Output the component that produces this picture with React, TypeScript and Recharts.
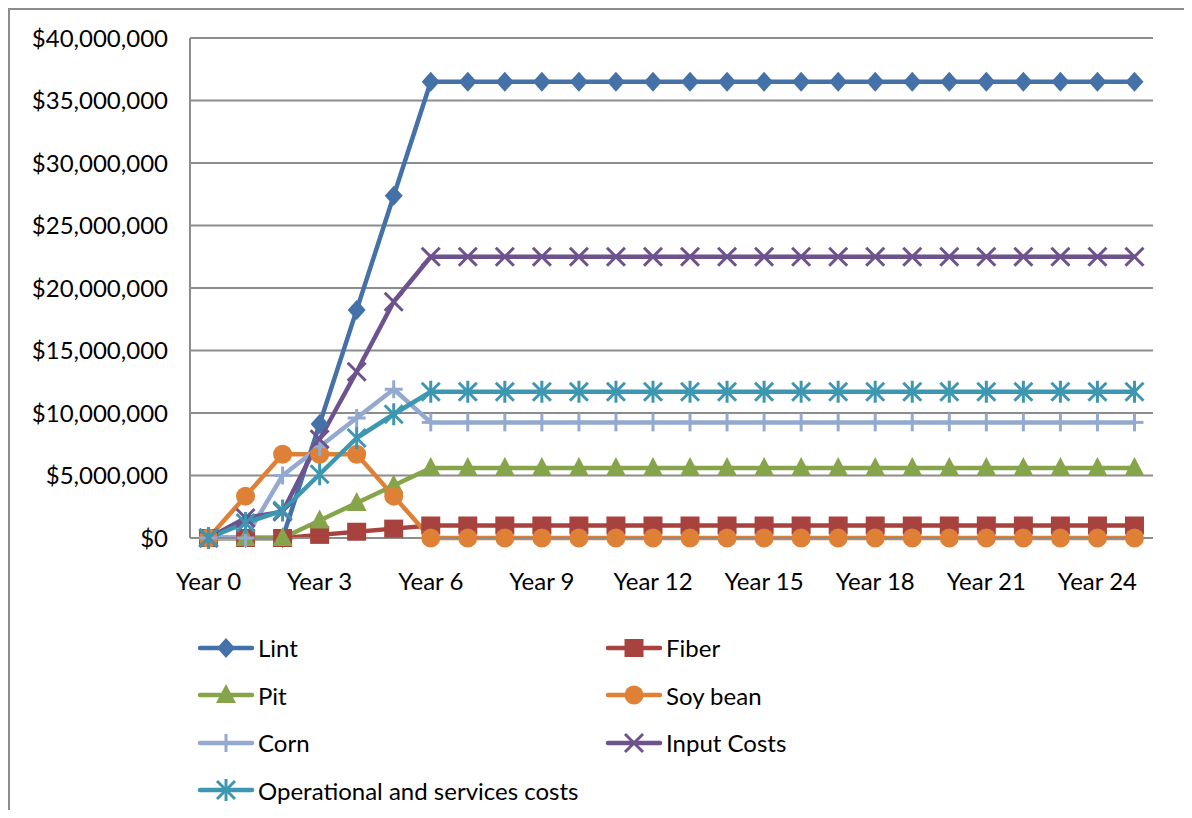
import { CartesianGrid, Line, LineChart, XAxis, YAxis } from "recharts";

const YEARS = [
  "Year 0", "Year 1", "Year 2", "Year 3", "Year 4", "Year 5", "Year 6",
  "Year 7", "Year 8", "Year 9", "Year 10", "Year 11", "Year 12", "Year 13",
  "Year 14", "Year 15", "Year 16", "Year 17", "Year 18", "Year 19",
  "Year 20", "Year 21", "Year 22", "Year 23", "Year 24", "Year 25",
];

// yearly values in dollars, year 0 .. year 25
const LINT = [
  0, 0, 0, 9125000, 18250000, 27375000, 36500000, 36500000, 36500000,
  36500000, 36500000, 36500000, 36500000, 36500000, 36500000, 36500000,
  36500000, 36500000, 36500000, 36500000, 36500000, 36500000, 36500000,
  36500000, 36500000, 36500000,
];
const FIBER = [
  0, 0, 0, 250000, 500000, 750000, 1000000, 1000000, 1000000, 1000000,
  1000000, 1000000, 1000000, 1000000, 1000000, 1000000, 1000000, 1000000,
  1000000, 1000000, 1000000, 1000000, 1000000, 1000000, 1000000, 1000000,
];
const PIT = [
  0, 0, 0, 1400000, 2800000, 4200000, 5600000, 5600000, 5600000, 5600000,
  5600000, 5600000, 5600000, 5600000, 5600000, 5600000, 5600000, 5600000,
  5600000, 5600000, 5600000, 5600000, 5600000, 5600000, 5600000, 5600000,
];
const SOY_BEAN = [
  0, 3350000, 6700000, 6700000, 6700000, 3350000, 0, 0, 0, 0, 0, 0, 0, 0,
  0, 0, 0, 0, 0, 0, 0, 0, 0, 0, 0, 0,
];
const CORN = [
  0, 0, 5000000, 7300000, 9600000, 11900000, 9250000, 9250000, 9250000,
  9250000, 9250000, 9250000, 9250000, 9250000, 9250000, 9250000, 9250000,
  9250000, 9250000, 9250000, 9250000, 9250000, 9250000, 9250000, 9250000,
  9250000,
];
const INPUT_COSTS = [
  0, 1600000, 2100000, 7900000, 13300000, 18900000, 22500000, 22500000,
  22500000, 22500000, 22500000, 22500000, 22500000, 22500000, 22500000,
  22500000, 22500000, 22500000, 22500000, 22500000, 22500000, 22500000,
  22500000, 22500000, 22500000, 22500000,
];
const OPERATIONAL = [
  0, 1200000, 2200000, 5100000, 8000000, 9900000, 11700000, 11700000,
  11700000, 11700000, 11700000, 11700000, 11700000, 11700000, 11700000,
  11700000, 11700000, 11700000, 11700000, 11700000, 11700000, 11700000,
  11700000, 11700000, 11700000, 11700000,
];

const Y_TICKS = [
  0, 5000000, 10000000, 15000000, 20000000, 25000000, 30000000, 35000000,
  40000000,
];

type Shape = "diamond" | "square" | "triangle" | "circle" | "plus" | "cross" | "star";

const SERIES: { key: string; name: string; values: number[]; color: string; shape: Shape }[] = [
  { key: "lint", name: "Lint", values: LINT, color: "#4571a9", shape: "diamond" },
  { key: "fiber", name: "Fiber", values: FIBER, color: "#a8423f", shape: "square" },
  { key: "pit", name: "Pit", values: PIT, color: "#86a44a", shape: "triangle" },
  { key: "soy", name: "Soy bean", values: SOY_BEAN, color: "#de8136", shape: "circle" },
  { key: "corn", name: "Corn", values: CORN, color: "#93a9d0", shape: "plus" },
  { key: "input", name: "Input Costs", values: INPUT_COSTS, color: "#6d528d", shape: "cross" },
  { key: "oper", name: "Operational and services costs", values: OPERATIONAL, color: "#3d97b0", shape: "star" },
];

const rows = YEARS.map((year, i) => {
  const row: Record<string, string | number> = { year };
  SERIES.forEach((s) => {
    row[s.key] = s.values[i];
  });
  return row;
});

const FONT = "Lato, 'Open Sans', sans-serif";
const FONT_SIZE = 24;
const GRID = "#8c8c8c";

function Marker({ shape, cx, cy, color }: { shape: Shape; cx: number; cy: number; color: string }) {
  switch (shape) {
    case "diamond":
      return <polygon points={`${cx},${cy - 10} ${cx + 9},${cy} ${cx},${cy + 10} ${cx - 9},${cy}`} fill={color} />;
    case "square":
      return <rect x={cx - 9.5} y={cy - 9} width={19} height={18} fill={color} />;
    case "triangle":
      return <polygon points={`${cx},${cy - 11} ${cx + 10},${cy + 8} ${cx - 10},${cy + 8}`} fill={color} />;
    case "circle":
      return <circle cx={cx} cy={cy} r={9.5} fill={color} />;
    case "plus":
      return (
        <g stroke={color} strokeWidth={3}>
          <line x1={cx} y1={cy - 9} x2={cx} y2={cy + 9} />
          <line x1={cx - 9} y1={cy} x2={cx + 9} y2={cy} />
        </g>
      );
    case "cross":
      return (
        <g stroke={color} strokeWidth={3}>
          <line x1={cx - 9} y1={cy - 9} x2={cx + 9} y2={cy + 9} />
          <line x1={cx - 9} y1={cy + 9} x2={cx + 9} y2={cy - 9} />
        </g>
      );
    default:
      return (
        <g stroke={color} strokeWidth={3}>
          <line x1={cx - 9} y1={cy - 9} x2={cx + 9} y2={cy + 9} />
          <line x1={cx - 9} y1={cy + 9} x2={cx + 9} y2={cy - 9} />
          <line x1={cx} y1={cy - 11} x2={cx} y2={cy + 11} />
        </g>
      );
  }
}

const formatDollars = (v: number) => "$" + v.toLocaleString("en-US");

function ChartLegend() {
  return (
    <div
      style={{
        position: "absolute",
        left: 190,
        top: 614,
        display: "grid",
        gridTemplateColumns: "408px 380px",
        gridAutoRows: "47.5px",
        fontFamily: FONT,
        fontSize: FONT_SIZE,
        color: "#000",
        whiteSpace: "nowrap",
      }}
    >
      {SERIES.map((s) => (
        <div key={s.key} style={{ display: "flex", alignItems: "center" }}>
          <svg width={52} height={26} style={{ overflow: "visible", flexShrink: 0 }}>
            <line x1={0} y1={13} x2={52} y2={13} stroke={s.color} strokeWidth={4.5} strokeLinecap="round" />
            <Marker shape={s.shape} cx={26} cy={13} color={s.color} />
          </svg>
          <span style={{ marginLeft: 6 }}>{s.name}</span>
        </div>
      ))}
    </div>
  );
}

export default function App() {
  return (
    <div
      style={{
        position: "relative",
        width: 1182,
        height: 800,
        borderTop: `2px solid ${GRID}`,
        borderLeft: `2px solid ${GRID}`,
        background: "#fff",
      }}
    >
      <div style={{ position: "absolute", left: 0, top: 0 }}>
        <LineChart
          width={1170}
          height={600}
          data={rows}
          margin={{ top: 28, right: 27, left: 10, bottom: 12 }}
        >
          <CartesianGrid vertical={false} stroke={GRID} strokeWidth={2} />
          <XAxis
            dataKey="year"
            scale="band"
            interval={2}
            height={60}
            tickSize={0}
            tickMargin={35}
            tickLine={false}
            axisLine={{ stroke: GRID, strokeWidth: 2 }}
            tick={{ fill: "#000", fontSize: FONT_SIZE, fontFamily: FONT }}
          />
          <YAxis
            domain={[0, 40000000]}
            ticks={Y_TICKS}
            width={170}
            tickSize={0}
            tickMargin={22}
            tickLine={false}
            tickFormatter={formatDollars}
            axisLine={{ stroke: GRID, strokeWidth: 2 }}
            tick={{ fill: "#000", fontSize: FONT_SIZE, fontFamily: FONT }}
          />
          {SERIES.map((s) => (
            <Line
              key={s.key}
              dataKey={s.key}
              name={s.name}
              stroke={s.color}
              strokeWidth={4.5}
              strokeLinejoin="round"
              isAnimationActive={false}
              dot={(p: any) => (
                <Marker key={`${s.key}-${p.index}`} shape={s.shape} cx={p.cx} cy={p.cy} color={s.color} />
              )}
              activeDot={false}
            />
          ))}
        </LineChart>
      </div>
      <ChartLegend />
    </div>
  );
}
